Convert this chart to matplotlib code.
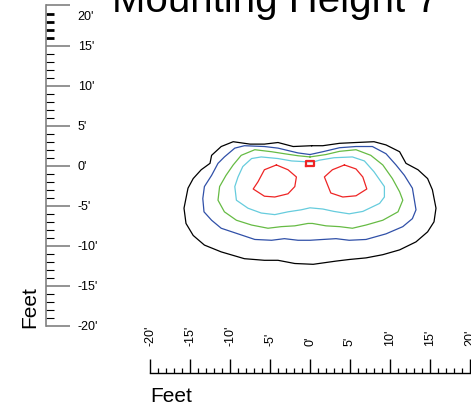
import matplotlib
matplotlib.use("Agg")
import matplotlib.pyplot as plt
from matplotlib.ticker import MultipleLocator, FuncFormatter
from matplotlib.transforms import ScaledTranslation

plt.rcParams['font.family'] = ['Liberation Sans', 'DejaVu Sans']

W, H = 471, 409
title = "Mounting Height 7'"
axis_label = "Feet"
tick_values = [-20, -15, -10, -5, 0, 5, 10, 15, 20]

# contour polylines in feet (x, y)
black_x = [0.2, -2.1, -4.0, -5.7, -7.5, -9.6, -11.1, -12.3, -12.5, -13.6, -14.6, -15.25, -15.75, -15.5,
           -14.6, -13.2, -11.1, -8.2, -5.7, -4.0, -1.9, 0.4, 3.25, 4.9, 7.0, 9.1, 11.2, 13.25, 14.7,
           15.5, 15.75, 15.3, 14.7, 13.5, 12.0, 11.2, 9.5, 8.0, 5.75, 3.7, 1.6, 0.2]
black_y = [2.5, 2.4, 2.9, 2.7, 2.7, 3.0, 2.4, 1.3, 0.3, -0.5, -1.6, -2.8, -5.3, -7.2,
           -8.7, -9.9, -10.75, -11.6, -11.8, -11.8, -12.2, -12.3, -11.9, -11.7, -11.5, -11.1, -10.5, -9.5, -8.25,
           -7.0, -5.3, -3.0, -1.6, -0.5, 0.3, 1.75, 2.6, 3.0, 2.9, 2.8, 2.5, 2.5]

blue_x = [0.0, -1.5, -4.0, -5.7, -8.2, -9.4, -10.7, -11.5, -12.3, -13.2, -13.4, -13.25, -12.3, -11.1,
          -9.0, -6.9, -4.8, -3.2, -1.5, 0.0, 1.6, 3.25, 4.9, 7.0, 9.5, 11.6, 12.8, 13.25, 12.8, 11.8,
          10.75, 9.5, 7.8, 5.75, 3.7, 1.6, 0.0]
blue_y = [1.4, 1.6, 2.2, 2.4, 2.5, 2.2, 1.1, 0.3, -1.2, -2.6, -4.1, -5.75, -6.8, -7.8,
          -8.5, -9.2, -9.3, -9.1, -9.3, -9.3, -9.2, -9.1, -9.3, -9.2, -8.5, -7.6, -6.6, -5.5, -2.8, -1.2,
          0.1, 1.5, 2.4, 2.4, 2.25, 1.75, 1.4]

green_x = [0.0, -1.5, -3.2, -4.8, -6.9, -8.6, -9.6, -10.5, -11.3, -11.5, -10.7, -9.2, -7.3, -5.25,
           -3.6, -1.9, -0.25, 0.3, 2.0, 3.7, 5.3, 7.0, 9.1, 11.0, 11.6, 11.2, 10.3, 9.1, 7.6, 5.75,
           3.7, 2.0, 0.0]
green_y = [1.1, 1.25, 1.5, 1.75, 2.0, 1.3, 0.1, -1.2, -2.6, -4.3, -5.75, -6.8, -7.4, -7.8,
           -7.6, -7.5, -7.2, -7.2, -7.5, -7.6, -7.8, -7.4, -6.8, -5.75, -4.3, -3.25, -1.6, 0.1, 1.3, 2.0,
           1.8, 1.4, 1.1]

cyan_x = [-0.5, -2.3, -4.0, -6.1, -7.3, -8.4, -9.0, -9.4, -9.2, -7.75, -6.1, -4.4, -2.75, -1.1, 0.0,
          1.6, 3.0, 4.9, 6.6, 8.7, 9.3, 9.3, 8.0, 6.8, 5.3, 3.0, 1.2, 0.5, -0.5]
cyan_y = [0.5, 0.6, 0.9, 1.1, 0.9, -0.1, -1.4, -2.6, -4.3, -5.3, -5.9, -6.1, -5.75, -5.5, -5.25,
          -5.4, -5.7, -6.0, -5.7, -4.7, -3.9, -2.6, -0.75, 0.6, 1.1, 1.0, 0.7, 0.5, 0.5]

red_left_x = [-4.2, -2.75, -1.7, -1.9, -2.75, -4.4, -5.7, -7.1, -6.5, -5.7, -4.2]
red_left_y = [0.1, -0.5, -1.4, -2.6, -3.5, -3.9, -3.8, -2.9, -2.0, -0.5, 0.1]
red_right_x = [4.3, 5.75, 6.6, 7.1, 5.75, 4.1, 2.6, 1.8, 2.8, 4.3]
red_right_y = [0.1, -0.4, -1.4, -2.9, -3.75, -3.9, -3.4, -1.4, -0.5, 0.1]

# luminaire marker (rectangle) in feet
lum_x = [-0.5, 0.5, 0.5, -0.5, -0.5]
lum_y = [0.0, 0.0, 0.6, 0.6, 0.0]

colors = {'black': '#000000', 'blue': '#3050a8', 'green': '#66bb44',
          'cyan': '#66ccdd', 'red': '#ee2525'}

fig = plt.figure(figsize=(W / 100, H / 100), dpi=100)

def fx(px):
    return px / W

def fy(py):
    return 1 - py / H

x0, x1 = 150, 470
y0, y1 = 5.5, 326

# main plotting axes
ax = fig.add_axes([fx(x0), fy(y1), fx(x1) - fx(x0), fy(y0) - fy(y1)])
ax.set_xlim(-20, 20)
ax.set_ylim(-20, 20)
ax.axis('off')
lw = 0.9
ax.plot(black_x, black_y, color=colors['black'], lw=lw)
ax.plot(blue_x, blue_y, color=colors['blue'], lw=lw)
ax.plot(green_x, green_y, color=colors['green'], lw=lw)
ax.plot(cyan_x, cyan_y, color=colors['cyan'], lw=lw)
ax.plot(red_left_x, red_left_y, color=colors['red'], lw=lw)
ax.plot(red_right_x, red_right_y, color=colors['red'], lw=lw)
ax.plot(lum_x, lum_y, color=colors['red'], lw=1.6)

fmt = FuncFormatter(lambda v, p: f"{int(round(v))}'")

# left ruler: right spine at x=46px
axl = fig.add_axes([fx(40), fy(y1), fx(46) - fx(40), fy(y0) - fy(y1)])
axl.set_ylim(-20, 20)
axl.set_xticks([])
for s in ['left', 'top', 'bottom']:
    axl.spines[s].set_visible(False)
axl.spines['right'].set_color('#808080')
axl.spines['right'].set_linewidth(1.2)
axl.patch.set_visible(False)
axl.yaxis.tick_right()
axl.set_yticks(tick_values)
axl.yaxis.set_major_formatter(fmt)
axl.yaxis.set_minor_locator(MultipleLocator(1))
axl.tick_params(axis='y', which='major', direction='out', length=17.3, width=1.2,
                color='#808080', pad=5.5, labelsize=9, labelcolor='black')
axl.tick_params(axis='y', which='minor', direction='out', length=5.8, width=0.8, color='black')
fig.canvas.draw()
for t in axl.yaxis.get_minor_ticks():
    v = t.get_loc()
    if 15.5 < v < 19.5:
        t.tick2line.set_markeredgewidth(2.0)
for t in axl.yaxis.get_major_ticks():
    if abs(t.get_loc() - 20) < 1e-6:
        lab = t.label2
        lab.set_transform(lab.get_transform() + ScaledTranslation(0, -10 / 100, fig.dpi_scale_trans))

# bottom ruler: top spine at y=373px
axb = fig.add_axes([fx(x0), fy(380), fx(x1) - fx(x0), fy(373) - fy(380)])
axb.set_xlim(-20, 20)
axb.set_yticks([])
for s in ['left', 'right', 'bottom']:
    axb.spines[s].set_visible(False)
axb.spines['top'].set_linewidth(1.0)
axb.patch.set_visible(False)
axb.xaxis.tick_top()
axb.set_xticks(tick_values)
axb.xaxis.set_major_formatter(fmt)
axb.xaxis.set_minor_locator(MultipleLocator(1))
axb.tick_params(axis='x', which='major', direction='out', length=10, width=1.0,
                pad=9.4, labelsize=9, labelrotation=90)
axb.tick_params(axis='x', which='minor', direction='out', length=3.8, width=0.9)
for lab in axb.get_xticklabels():
    lab.set_va('bottom')

fig.text(fx(30), fy(328), axis_label, rotation=90, ha='center', va='bottom', fontsize=15)
fig.text(fx(150), fy(402), axis_label, ha='left', va='baseline', fontsize=15)
fig.text(fx(112), fy(12), title, ha='left', va='baseline', fontsize=29)

fig.savefig('out.png', dpi=100)
